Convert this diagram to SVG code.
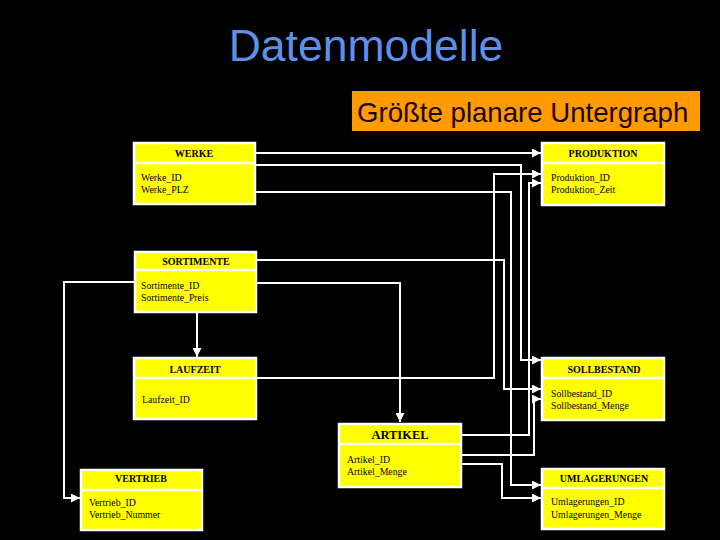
<svg xmlns="http://www.w3.org/2000/svg" width="720" height="540" viewBox="0 0 720 540">
<style>
.box{fill:#ffff00;stroke:#ffffff;stroke-width:2.5}
.sep{stroke:#ffffff;stroke-width:2.5}
.hd{font-family:"Liberation Serif",serif;font-weight:bold;font-size:10px;fill:#000;text-anchor:middle}
.bd{font-family:"Liberation Serif",serif;font-size:9.8px;fill:#000}
.c{fill:none;stroke:#ffffff;stroke-width:2}
</style>
<defs>
<marker id="ar" viewBox="0 0 10 10" refX="10" refY="5" markerWidth="4.5" markerHeight="4.5" orient="auto" markerUnits="strokeWidth">
<path d="M0,0 L10,5 L0,10 z" fill="#ffffff"/>
</marker>
</defs>
<rect x="0" y="0" width="720" height="540" fill="#000"/>
<text x="366" y="61" font-family="Liberation Sans, Arial, sans-serif" font-size="44.5" fill="#5f8fe8" text-anchor="middle">Datenmodelle</text>
<g id="subtitle">
<rect x="352" y="91" width="348" height="40" fill="#ff9a00"/>
<text x="357" y="122" font-family="Liberation Sans, Arial, sans-serif" font-size="27.6" fill="#1a0500">Größte planare Untergraph</text>
</g>
<g id="connectors">
<path class="c" d="M255,153 H541" marker-end="url(#ar)"/>
<path class="c" d="M255,165 H521 V360 H541" marker-end="url(#ar)"/>
<path class="c" d="M255,192 H511 V485 H541" marker-end="url(#ar)"/>
<path class="c" d="M256,378 H494 V174 H541" marker-end="url(#ar)"/>
<path class="c" d="M461,435 H529 V183 H541" marker-end="url(#ar)"/>
<path class="c" d="M256,260 H504 V389 H541" marker-end="url(#ar)"/>
<path class="c" d="M256,283 H400 V422" marker-end="url(#ar)"/>
<path class="c" d="M461,455 H534 V399 H541" marker-end="url(#ar)"/>
<path class="c" d="M461,464 H502 V498 H541" marker-end="url(#ar)"/>
<path class="c" d="M197,313 V357" marker-end="url(#ar)"/>
<path class="c" d="M134,282 H64 V498 H80" marker-end="url(#ar)"/>
</g>
<g id="werke">
<rect class="box" x="134" y="143" width="121" height="61"/>
<line class="sep" x1="134" y1="163" x2="255" y2="163"/>
<text class="hd" x="194" y="157">WERKE</text>
<text class="bd" x="141" y="181">Werke_ID</text>
<text class="bd" x="141" y="193">Werke_PLZ</text>
</g>
<g id="produktion">
<rect class="box" x="542" y="143" width="122" height="62"/>
<line class="sep" x1="542" y1="163" x2="664" y2="163"/>
<text class="hd" x="603" y="157">PRODUKTION</text>
<text class="bd" x="551" y="181">Produktion_ID</text>
<text class="bd" x="551" y="193">Produktion_Zeit</text>
</g>
<g id="sortimente">
<rect class="box" x="135" y="252" width="121" height="60"/>
<line class="sep" x1="135" y1="270" x2="256" y2="270"/>
<text class="hd" x="196" y="265">SORTIMENTE</text>
<text class="bd" x="141" y="289">Sortimente_ID</text>
<text class="bd" x="141" y="301">Sortimente_Preis</text>
</g>
<g id="laufzeit">
<rect class="box" x="134" y="358" width="122" height="61"/>
<line class="sep" x1="134" y1="378" x2="256" y2="378"/>
<text class="hd" x="195" y="373">LAUFZEIT</text>
<text class="bd" x="142" y="403">Laufzeit_ID</text>
</g>
<g id="sollbestand">
<rect class="box" x="542" y="358" width="122" height="62"/>
<line class="sep" x1="542" y1="378" x2="664" y2="378"/>
<text class="hd" x="604" y="373">SOLLBESTAND</text>
<text class="bd" x="551" y="397">Sollbestand_ID</text>
<text class="bd" x="551" y="409">Sollbestand_Menge</text>
</g>
<g id="artikel">
<rect class="box" x="339" y="424" width="122" height="63"/>
<line class="sep" x1="339" y1="444" x2="461" y2="444"/>
<text class="hd" x="400" y="439" style="font-size:12.5px">ARTIKEL</text>
<text class="bd" x="347" y="463">Artikel_ID</text>
<text class="bd" x="347" y="475">Artikel_Menge</text>
</g>
<g id="vertrieb">
<rect class="box" x="81" y="470" width="121" height="60"/>
<line class="sep" x1="81" y1="490" x2="202" y2="490"/>
<text class="hd" x="141" y="482">VERTRIEB</text>
<text class="bd" x="89" y="506">Vertrieb_ID</text>
<text class="bd" x="89" y="518">Vertrieb_Nummer</text>
</g>
<g id="umlagerungen">
<rect class="box" x="542" y="469" width="122" height="60"/>
<line class="sep" x1="542" y1="488" x2="664" y2="488"/>
<text class="hd" x="604" y="482">UMLAGERUNGEN</text>
<text class="bd" x="551" y="505">Umlagerungen_ID</text>
<text class="bd" x="551" y="518">Umlagerungen_Menge</text>
</g>
</svg>
